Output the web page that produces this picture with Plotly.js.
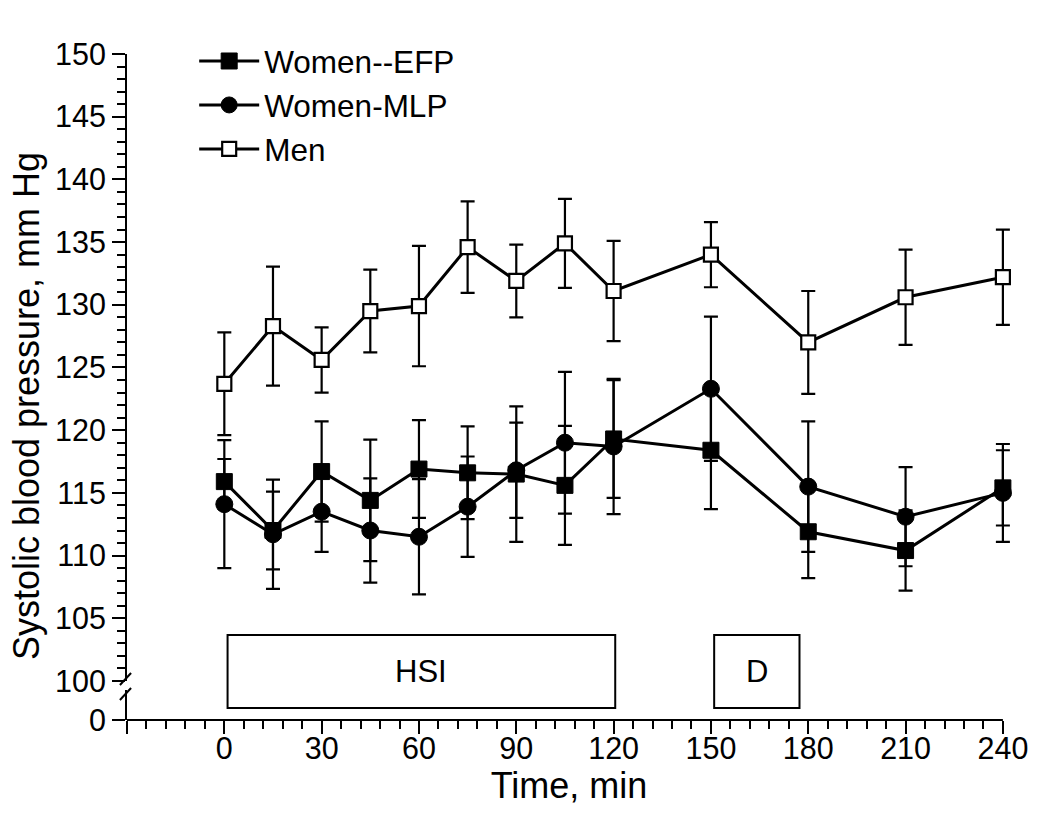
<!DOCTYPE html>
<html>
<head>
<meta charset="utf-8">
<script src="https://cdn.plot.ly/plotly-3.0.1.min.js"></script>
<style>html,body{margin:0;padding:0;background:#fff;}#chart{width:1050px;height:828px;}</style>
</head>
<body>
<div id="chart"></div>
<script>
// ---- data ----
const time = [0, 15, 30, 45, 60, 75, 90, 105, 120, 150, 180, 210, 240];
const efpMean = [115.9, 112.0, 116.7, 114.4, 116.9, 116.6, 116.5, 115.6, 119.3, 118.4, 111.9, 110.4, 115.4];
const efpErr  = [1.8, 3.1, 4.0, 4.85, 3.9, 3.7, 5.4, 4.75, 4.7, 4.7, 3.7, 3.2, 3.0];
const mlpMean = [114.1, 111.7, 113.5, 112.0, 111.5, 113.9, 116.8, 119.0, 118.7, 123.3, 115.5, 113.1, 115.0];
const mlpErr  = [5.1, 4.35, 3.2, 4.15, 4.6, 4.0, 3.8, 5.65, 5.4, 5.75, 5.2, 3.95, 3.9];
const menMean = [123.7, 128.3, 125.6, 129.5, 129.9, 134.6, 131.9, 134.9, 131.1, 134.0, 127.0, 130.6, 132.2];
const menErr  = [4.1, 4.75, 2.6, 3.3, 4.8, 3.65, 2.9, 3.55, 4.0, 2.6, 4.1, 3.8, 3.8];
const seriesNames = ['Women--EFP', 'Women-MLP', 'Men'];

const xTickVals = [-30, 0, 30, 60, 90, 120, 150, 180, 210, 240];
const xTickText = ['', '0', '30', '60', '90', '120', '150', '180', '210', '240'];
const xAxisStart = -30, xAxisEnd = 240;

const phaseLabels = ['HSI', 'D'];
const phaseStart = [1, 151];
const phaseEnd = [120.5, 177.3];

// ---- styling ----
const FONT = 'Liberation Sans, Arial, Helvetica, sans-serif';
const black = '#000';
function errStyle(arr) {
  return {type: 'data', array: arr, visible: true, color: black, thickness: 2.2, width: 7};
}
const lineStyle = {color: black, width: 3};

const traces = [
  // empty helpers so the lower (broken) axis segment and the title axis exist as subplots
  {x: [], y: [], xaxis: 'x', yaxis: 'y3', type: 'scatter', mode: 'markers', showlegend: false, hoverinfo: 'skip'},
  {x: [], y: [], xaxis: 'x', yaxis: 'y2', type: 'scatter', mode: 'markers', showlegend: false, hoverinfo: 'skip'},
  {x: time, y: efpMean, name: seriesNames[0], type: 'scatter', mode: 'lines+markers',
   xaxis: 'x', yaxis: 'y', cliponaxis: false,
   line: lineStyle, error_y: errStyle(efpErr),
   marker: {symbol: 'square', size: 16, color: black, line: {color: black, width: 1}}},
  {x: time, y: mlpMean, name: seriesNames[1], type: 'scatter', mode: 'lines+markers',
   xaxis: 'x', yaxis: 'y', cliponaxis: false,
   line: lineStyle, error_y: errStyle(mlpErr),
   marker: {symbol: 'circle', size: 17, color: black, line: {color: black, width: 1}}},
  {x: time, y: menMean, name: seriesNames[2], type: 'scatter', mode: 'lines+markers',
   xaxis: 'x', yaxis: 'y', cliponaxis: false,
   line: lineStyle, error_y: errStyle(menErr),
   marker: {symbol: 'square', size: 14, color: '#fff', line: {color: black, width: 2.2}}}
];

const shapes = [];
const annotations = [];
for (let i = 0; i < phaseLabels.length; i++) {
  shapes.push({type: 'rect', xref: 'x', yref: 'paper', x0: phaseStart[i], x1: phaseEnd[i],
    y0: 0.018, y1: 0.1276, line: {color: black, width: 2}, fillcolor: 'rgba(0,0,0,0)'});
  annotations.push({xref: 'x', yref: 'paper', x: (phaseStart[i] + phaseEnd[i]) / 2, y: 0.073,
    text: phaseLabels[i], showarrow: false, font: {family: FONT, size: 31, color: black},
    xanchor: 'center', yanchor: 'middle'});
}
// x axis line (ends exactly at the last tick)
shapes.push({type: 'line', xref: 'x', yref: 'paper', x0: xAxisStart, x1: xAxisEnd, y0: 0, y1: 0, line: {color: black, width: 2}});
// axis break marks
shapes.push({type: 'line', xref: 'paper', yref: 'paper', x0: -0.008, x1: 0.0046, y0: 0.0526, y1: 0.0706, line: {color: black, width: 2}});
shapes.push({type: 'line', xref: 'paper', yref: 'paper', x0: -0.008, x1: 0.0046, y0: 0.030, y1: 0.048, line: {color: black, width: 2}});

const tickFont = {family: FONT, size: 30.5, color: black};

const layout = {
  width: 1050, height: 828,
  paper_bgcolor: '#fff', plot_bgcolor: 'rgba(0,0,0,0)',
  margin: {l: 127, r: 39, t: 54, b: 108},
  font: {family: FONT, color: black},
  showlegend: true,
  legend: {x: 0.076, y: 1.03, xanchor: 'left', yanchor: 'top', bgcolor: 'rgba(0,0,0,0)',
           font: {family: FONT, size: 31.5, color: black}, itemwidth: 60, tracegroupgap: 0},
  xaxis: {
    range: [xAxisStart, 242.5], anchor: 'y2', showgrid: false, zeroline: false,
    showline: false,
    tickmode: 'array', tickvals: xTickVals, ticktext: xTickText,
    ticks: 'outside', ticklen: 13, tickwidth: 2, tickcolor: black,
    ticklabelstandoff: -12,
    minor: {tickmode: 'linear', tick0: 0, dtick: 6, ticks: 'outside', ticklen: 8, tickwidth: 2, tickcolor: black, showgrid: false},
    tickfont: tickFont,
    title: {text: 'Time, min', font: {family: FONT, size: 36, color: black}, standoff: 0}
  },
  yaxis: {
    domain: [0.0586, 1], range: [100, 150], anchor: 'x', showgrid: false, zeroline: false,
    showline: true, linecolor: black, linewidth: 2,
    tickmode: 'linear', tick0: 100, dtick: 5,
    ticks: 'outside', ticklen: 13, tickwidth: 2, tickcolor: black,
    minor: {tickmode: 'linear', tick0: 100, dtick: 1, ticks: 'outside', ticklen: 8, tickwidth: 2, tickcolor: black, showgrid: false},
    tickfont: tickFont
  },
  yaxis2: {
    domain: [0, 0.045], range: [0, 2.4], anchor: 'x', showgrid: false, zeroline: false,
    showline: true, linecolor: black, linewidth: 2,
    tickmode: 'array', tickvals: [0], ticktext: ['0'],
    ticks: 'outside', ticklen: 13, tickwidth: 2, tickcolor: black,
    tickfont: tickFont
  },
  yaxis3: {
    domain: [0, 0.943], anchor: 'free', position: 0,
    showline: false, showgrid: false, zeroline: false, showticklabels: false, ticks: '',
    range: [0, 1],
    title: {text: 'Systolic blood pressure, mm Hg', font: {family: FONT, size: 36, color: black}, standoff: 75}
  },
  shapes: shapes,
  annotations: annotations
};

Plotly.newPlot('chart', traces, layout, {displayModeBar: false, staticPlot: true});
</script>
</body>
</html>
